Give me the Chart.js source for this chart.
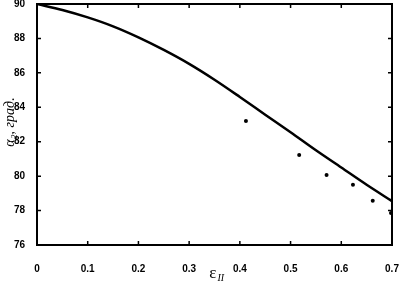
<!DOCTYPE html>
<html>
<head>
<meta charset="utf-8">
<script src="https://cdn.jsdelivr.net/npm/chart.js@4"></script>
<style>
  html, body { margin: 0; padding: 0; background: #fff; }
  #wrap { width: 400px; height: 283px; }
</style>
</head>
<body>
<div id="wrap"><canvas id="chart"></canvas></div>
<script>
// расчётная кривая
const curveX = [0, 0.05, 0.1, 0.15, 0.2, 0.25, 0.3, 0.35, 0.4, 0.45, 0.5, 0.55, 0.6, 0.65, 0.7];
const curveY = [90, 89.65, 89.22, 88.7, 88.06, 87.33, 86.52, 85.6, 84.6, 83.57, 82.55, 81.5, 80.5, 79.5, 78.55];

// эксперимент
const expX = [0.412, 0.517, 0.571, 0.623, 0.662, 0.698];
const expY = [83.2, 81.23, 80.06, 79.5, 78.57, 77.86];

const xTicks = [0, 0.1, 0.2, 0.3, 0.4, 0.5, 0.6, 0.7];
const yTicks = [76, 78, 80, 82, 84, 86, 88, 90];

const tickFont = { family: 'Liberation Sans', size: 10, weight: 'bold' };

// рамка, внутренние засечки и подписи осей
const framePlugin = {
    id: 'frame',
    afterDraw(chart) {
        const ctx = chart.ctx;
        const a = chart.chartArea;
        const xs = chart.scales.x;
        const ys = chart.scales.y;
        ctx.save();
        ctx.strokeStyle = '#000';
        ctx.lineWidth = 2;
        ctx.strokeRect(a.left, a.top, a.right - a.left, a.bottom - a.top);

        ctx.lineWidth = 1.5;
        ctx.beginPath();
        xTicks.forEach(v => {
            const px = xs.getPixelForValue(v);
            ctx.moveTo(px, a.bottom); ctx.lineTo(px, a.bottom - 4);
            ctx.moveTo(px, a.top); ctx.lineTo(px, a.top + 4);
        });
        yTicks.forEach(v => {
            const py = ys.getPixelForValue(v);
            ctx.moveTo(a.left, py); ctx.lineTo(a.left + 4, py);
            ctx.moveTo(a.right, py); ctx.lineTo(a.right - 4, py);
        });
        ctx.stroke();

        ctx.fillStyle = '#000';
        ctx.textBaseline = 'alphabetic';

        // ε_II
        const cx = (a.left + a.right) / 2;
        ctx.font = '17px "Liberation Serif"';
        ctx.textAlign = 'right';
        ctx.fillText('ε', cx + 2, 278);
        ctx.font = 'italic 10px "Liberation Serif"';
        ctx.textAlign = 'left';
        ctx.fillText('II', cx + 3, 281);

        // α₂, град.
        ctx.translate(14, 122);
        ctx.rotate(-Math.PI / 2);
        ctx.textAlign = 'center';
        ctx.font = 'italic 14px "Liberation Serif"';
        ctx.fillText('α₂, град.', 0, 0);
        ctx.restore();
    }
};

const ctx = document.getElementById('chart').getContext('2d');
const chart = new Chart(ctx, {
    type: 'scatter',
    data: {
        datasets: [{
            label: 'расчёт',
            data: curveX.map((x, i) => ({ x: x, y: curveY[i] })),
            showLine: true,
            borderColor: '#000',
            borderWidth: 2.5,
            pointRadius: 0,
            cubicInterpolationMode: 'monotone',
            fill: false
        }, {
            label: 'эксперимент',
            data: expX.map((x, i) => ({ x: x, y: expY[i] })),
            showLine: false,
            backgroundColor: '#000',
            borderColor: '#000',
            pointRadius: 2,
            pointBorderWidth: 0
        }]
    },
    options: {
        responsive: true,
        maintainAspectRatio: false,
        animation: false,
        layout: { autoPadding: false, padding: { top: 4, right: 8, left: 0, bottom: 0 } },
        plugins: {
            legend: { display: false },
            tooltip: { enabled: false }
        },
        scales: {
            x: {
                type: 'linear',
                min: 0,
                max: 0.7,
                afterBuildTicks: s => { s.ticks = xTicks.map(v => ({ value: v })); },
                afterFit: s => { s.height = 38; s.paddingLeft = 0; s.paddingRight = 0; },
                grid: { display: false },
                border: { display: false },
                ticks: {
                    color: '#000',
                    font: tickFont,
                    padding: 10,
                    maxRotation: 0,
                    callback: v => v === 0 ? '0' : v.toFixed(1)
                }
            },
            y: {
                type: 'linear',
                min: 76,
                max: 90,
                afterBuildTicks: s => { s.ticks = yTicks.map(v => ({ value: v })); },
                afterFit: s => { s.width = 37; s.paddingTop = 0; s.paddingBottom = 0; },
                grid: { display: false },
                border: { display: false },
                ticks: {
                    color: '#000',
                    font: tickFont,
                    padding: 4
                }
            }
        }
    },
    plugins: [framePlugin]
});
</script>
</body>
</html>
